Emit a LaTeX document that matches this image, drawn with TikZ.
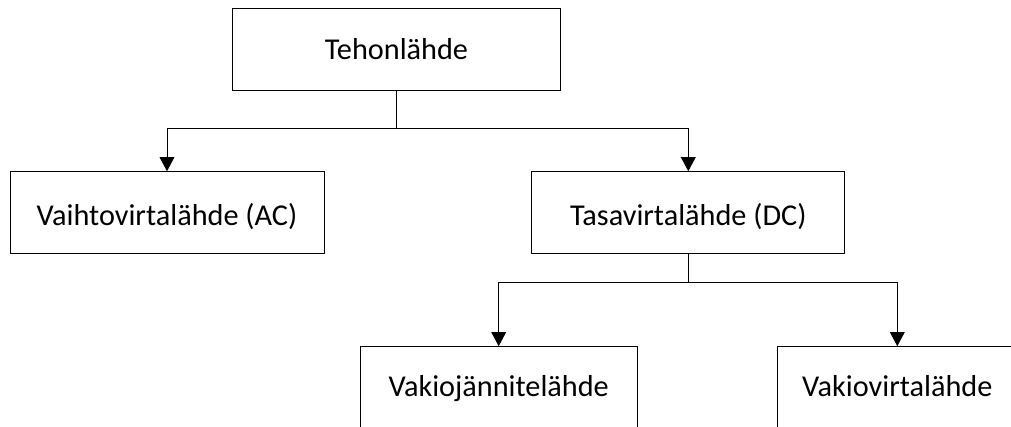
\documentclass[tikz,border=0pt]{standalone}
\usepackage{fontspec}
\setmainfont{Carlito}
\usetikzlibrary{arrows.meta}
\tikzset{
  box/.style={draw, line width=0.75pt, inner sep=0pt, minimum height=61.7pt,
    font=\fontsize{22.7pt}{27pt}\selectfont, text depth=0pt, text height=#1*1.5pt},
  link/.style={line width=0.75pt},
  arrowlink/.style={link, -{Triangle[width=11pt,length=10.5pt]}}
}
\begin{document}
\begin{tikzpicture}[x=0.75pt, y=-0.75pt]
  \useasboundingbox (0,0) rectangle (1011,426);
  \begin{scope}
    \clip (0,0) rectangle (1011,426);
    \node[box=9.3, minimum width=246.3pt] (teho) at (396.5,49.85) {Tehonlähde};
    \node[box=13, minimum width=235.5pt] (ac) at (167,212.85) {Vaihtovirtalähde (AC)};
    \node[box=13, minimum width=235pt] (dc) at (688.3,212.85) {Tasavirtalähde (DC)};
    \node[box=8.3, minimum width=208pt] (vj) at (498.7,387.8) {Vakiojännitelähde};
    \node[box=8.3, minimum width=180pt] (vv) at (897.3,387.8) {Vakiovirtalähde};

    \coordinate (j1) at (396.5,128.3);
    \coordinate (j2) at (688.3,282.7);

    \draw[link] (teho.south) -- (j1);
    \draw[arrowlink] (j1) -| (ac.north);
    \draw[arrowlink] (j1) -| (dc.north);

    \draw[link] (dc.south) -- (j2);
    \draw[arrowlink] (j2) -| (vj.north);
    \draw[arrowlink] (j2) -| (vv.north);
  \end{scope}
\end{tikzpicture}
\end{document}
